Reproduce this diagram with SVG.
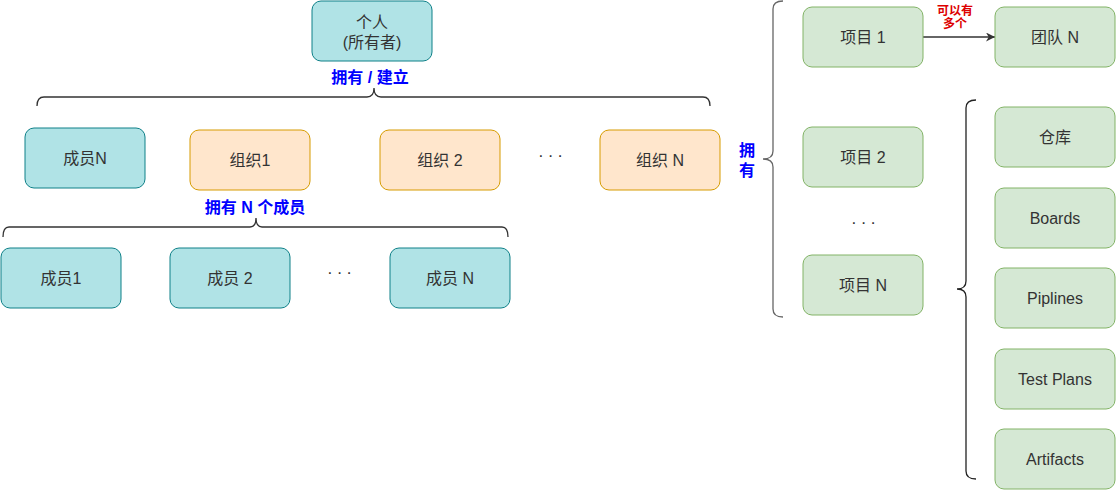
<svg xmlns="http://www.w3.org/2000/svg" width="1116" height="490" viewBox="0 0 1116 490">
<style>
text{font-family:"Liberation Sans","Noto Sans CJK SC",sans-serif;}
.t{font-size:16px;fill:#333;text-anchor:middle;}
.lbl{font-size:16px;font-weight:bold;fill:#0000ff;text-anchor:middle;}
.red{font-size:12px;font-weight:bold;fill:#dd0000;text-anchor:middle;}
.dots{font-size:17px;fill:#333;letter-spacing:5px;text-anchor:middle;}
.teal{fill:#b0e3e6;stroke:#0e8088;stroke-width:1;}
.org{fill:#ffe6cc;stroke:#d79b00;stroke-width:1;}
.green{fill:#d5e8d4;stroke:#82b366;stroke-width:1;}
.brace{fill:none;stroke-width:1.3;}
</style>
<defs>
<marker id="arrow" viewBox="0 0 10 10" refX="10" refY="5" markerWidth="9" markerHeight="9" markerUnits="userSpaceOnUse" orient="auto">
<path d="M0,0 L10,5 L0,10 L3,5 Z" fill="#333"/>
</marker>
</defs>

<g id="connectors">
<path class="brace" stroke="#333" d="M37,106 Q37,97 44,97 L367,97 Q374,97 374,88 Q374,97 381,97 L703,97 Q710,97 710,106"/>
<path class="brace" stroke="#333" d="M3,237 Q3,227 9,227 L250,227 Q256,227 256,218 Q256,227 262,227 L502,227 Q508,227 508,237"/>
<path class="brace" stroke="#666" d="M783,1 Q773,1 773,9 L773,151 Q773,159 763,159 Q773,159 773,167 L773,309 Q773,317 783,317"/>
<path class="brace" stroke="#222" d="M976,100 Q966,100 966,108 L966,281 Q966,289 957,289 Q966,289 966,297 L966,471 Q966,479 976,479"/>
<line x1="923" y1="37" x2="995" y2="37" stroke="#333" stroke-width="1.3" marker-end="url(#arrow)"/>
</g>

<g id="label-own-build"><text class="lbl" x="370" y="83">拥有 / 建立</text></g>
<g id="label-own-members"><text class="lbl" x="255" y="213">拥有 N 个成员</text></g>
<g id="label-own-vertical"><text class="lbl" x="747" y="156">拥</text><text class="lbl" x="747" y="176">有</text></g>
<g id="label-many"><text class="red" x="955" y="15">可以有</text><text class="red" x="955" y="28">多个</text></g>

<g id="node-person"><rect class="teal" x="312" y="1" width="120" height="60" rx="9"/><text class="t" x="372" y="28">个人</text><text class="t" x="372" y="48">(所有者)</text></g>

<g id="node-memberN-top"><rect class="teal" x="25" y="128" width="120" height="60" rx="9"/><text class="t" x="85" y="164">成员N</text></g>
<g id="node-org1"><rect class="org" x="190" y="130" width="120" height="60" rx="9"/><text class="t" x="250" y="166">组织1</text></g>
<g id="node-org2"><rect class="org" x="380" y="130" width="120" height="60" rx="9"/><text class="t" x="440" y="166">组织 2</text></g>
<g id="dots-org"><text class="dots" x="553" y="157">...</text></g>
<g id="node-orgN"><rect class="org" x="600" y="130" width="120" height="60" rx="9"/><text class="t" x="660" y="166">组织 N</text></g>

<g id="node-member1"><rect class="teal" x="1" y="248" width="120" height="60" rx="9"/><text class="t" x="61" y="284">成员1</text></g>
<g id="node-member2"><rect class="teal" x="170" y="248" width="120" height="60" rx="9"/><text class="t" x="230" y="284">成员 2</text></g>
<g id="dots-member"><text class="dots" x="342" y="274">...</text></g>
<g id="node-memberN"><rect class="teal" x="390" y="248" width="120" height="60" rx="9"/><text class="t" x="450" y="284">成员 N</text></g>

<g id="node-project1"><rect class="green" x="803" y="7" width="120" height="60" rx="9"/><text class="t" x="863" y="43">项目 1</text></g>
<g id="node-teamN"><rect class="green" x="995" y="7" width="120" height="60" rx="9"/><text class="t" x="1055" y="43">团队 N</text></g>
<g id="node-project2"><rect class="green" x="803" y="127" width="120" height="60" rx="9"/><text class="t" x="863" y="163">项目 2</text></g>
<g id="dots-project"><text class="dots" x="866" y="224">...</text></g>
<g id="node-projectN"><rect class="green" x="803" y="255" width="120" height="60" rx="9"/><text class="t" x="863" y="291">项目 N</text></g>

<g id="node-repo"><rect class="green" x="995" y="107" width="120" height="60" rx="9"/><text class="t" x="1055" y="143">仓库</text></g>
<g id="node-boards"><rect class="green" x="995" y="188" width="120" height="60" rx="9"/><text class="t" x="1055" y="224">Boards</text></g>
<g id="node-piplines"><rect class="green" x="995" y="268" width="120" height="60" rx="9"/><text class="t" x="1055" y="304">Piplines</text></g>
<g id="node-testplans"><rect class="green" x="995" y="349" width="120" height="60" rx="9"/><text class="t" x="1055" y="385">Test Plans</text></g>
<g id="node-artifacts"><rect class="green" x="995" y="429" width="120" height="60" rx="9"/><text class="t" x="1055" y="465">Artifacts</text></g>
</svg>
